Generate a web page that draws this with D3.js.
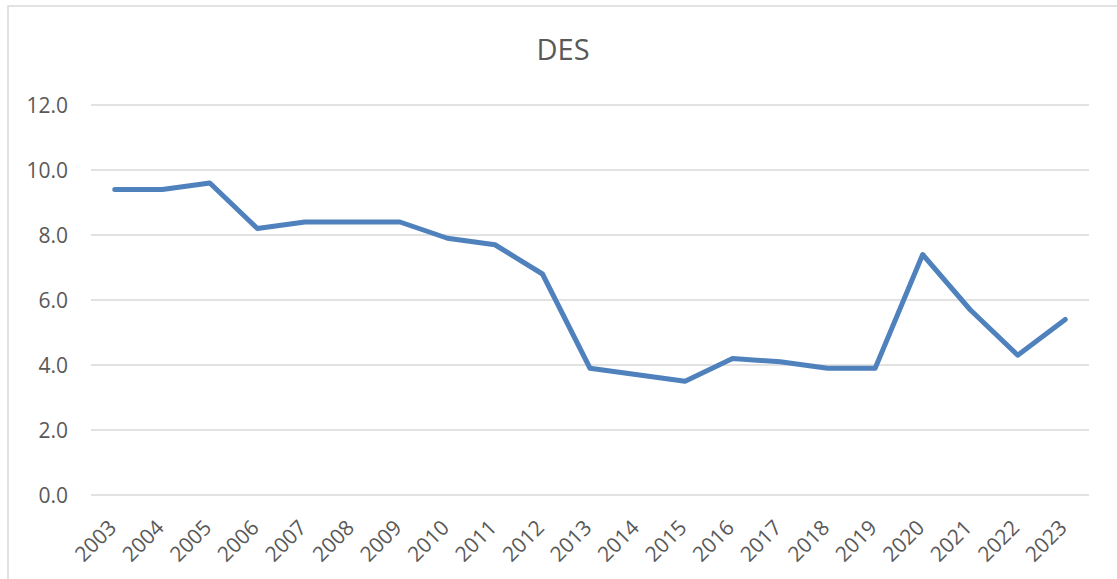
<!DOCTYPE html>
<html>
<head>
<meta charset="utf-8">
<script src="https://cdn.jsdelivr.net/npm/d3@7"></script>
<style>
  html, body { margin: 0; padding: 0; background: #fff; }
  svg { display: block; }
  text { font-family: "Open Sans", "Liberation Sans", sans-serif; fill: #595959; }
</style>
</head>
<body>
<svg id="chart" width="1117" height="579"></svg>
<script>
const title = "DES";
const years = ["2003","2004","2005","2006","2007","2008","2009","2010","2011","2012","2013","2014","2015","2016","2017","2018","2019","2020","2021","2022","2023"];
const values = [9.4, 9.4, 9.6, 8.2, 8.4, 8.4, 8.4, 7.9, 7.7, 6.8, 3.9, 3.7, 3.5, 4.2, 4.1, 3.9, 3.9, 7.4, 5.7, 4.3, 5.4];
const yTicks = [0, 2, 4, 6, 8, 10, 12];

const svg = d3.select("#chart");
const W = 1117, H = 579;
const plot = { left: 91, right: 1089, top: 105, bottom: 495 };

// chart border
svg.append("rect")
  .attr("x", 8).attr("y", 6)
  .attr("width", W + 10).attr("height", H + 10)
  .attr("fill", "none").attr("stroke", "#d9d9d9").attr("stroke-width", 1.5);

const x = d3.scaleBand().domain(years).range([plot.left, plot.right]).padding(0);
const y = d3.scaleLinear().domain([0, 12]).range([plot.bottom, plot.top]);

// gridlines
svg.append("g").selectAll("line").data(yTicks).join("line")
  .attr("x1", plot.left).attr("x2", plot.right)
  .attr("y1", d => y(d)).attr("y2", d => y(d))
  .attr("stroke", "#d9d9d9").attr("stroke-width", 1.5);

// y axis labels
const yAxis = d3.axisLeft(y).tickValues(yTicks).tickFormat(d3.format(".1f")).tickSize(0).tickPadding(0);
const gy = svg.append("g").attr("transform", `translate(68,0)`).call(yAxis);
gy.select(".domain").remove();
gy.selectAll("text").attr("font-size", 21).attr("fill", "#595959")
  .style("font-family", '"Open Sans", sans-serif').attr("dy", "0.35em");

// x axis labels
const xAxis = d3.axisBottom(x).tickSize(0).tickPadding(0);
const gx = svg.append("g").attr("transform", `translate(0,${plot.bottom})`).call(xAxis);
gx.select(".domain").remove();
gx.selectAll("text")
  .attr("font-size", 21).attr("fill", "#595959")
  .style("font-family", '"Open Sans", sans-serif')
  .attr("text-anchor", "end")
  .attr("y", 0).attr("dy", 0)
  .attr("transform", "translate(3,34) rotate(-45)");

// line
const line = d3.line()
  .x((d, i) => x(years[i]) + x.bandwidth() / 2)
  .y(d => y(d));
svg.append("path").datum(values)
  .attr("d", line)
  .attr("fill", "none")
  .attr("stroke", "#4f81bd")
  .attr("stroke-width", 5)
  .attr("stroke-linejoin", "round")
  .attr("stroke-linecap", "round");

// title
svg.append("text")
  .attr("x", 563).attr("y", 60)
  .attr("text-anchor", "middle")
  .attr("font-size", 29)
  .text(title);
</script>
</body>
</html>
